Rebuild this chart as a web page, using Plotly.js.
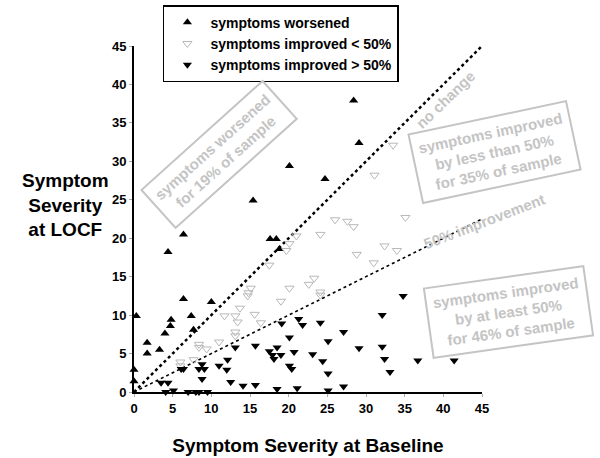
<!DOCTYPE html>
<html>
<head>
<meta charset="utf-8">
<script src="https://cdn.plot.ly/plotly-3.0.1.min.js"></script>
<style>html,body{margin:0;padding:0;background:#fff;}#chart{width:600px;height:458px;}</style>
</head>
<body>
<div id="chart"></div>
<script>
// Symptoms worsened (baseline, LOCF)
const worsenedX = [0, 0, 0.3, 1.7, 1.7, 3.3, 4.0, 4.7, 4.8, 6.4, 7.4, 7.7, 10.0, 6.4, 4.4, 15.4, 20.1, 17.6, 18.4, 18.8, 28.4, 29.1, 24.7];
const worsenedY = [1.4, 2.9, 9.9, 6.4, 5.0, 5.5, 7.6, 8.6, 9.4, 12.1, 9.9, 8.1, 11.7, 20.5, 18.2, 24.9, 29.4, 19.9, 19.9, 18.6, 37.9, 32.4, 27.7];

// Symptoms improved < 50%
const lessX = [15.1, 14.8, 14.7, 20.1, 19.0, 13.7, 11.7, 13.1, 13.4, 15.6, 16.4, 13.1, 13.1, 8.4, 8.4, 9.4, 11.0, 6.0, 6.0, 7.7,
               21.0, 24.1, 20.1, 19.7, 17.5, 22.6, 23.3, 24.1, 24.1, 33.5, 31.1, 26.0, 27.6, 28.4, 35.1, 32.4, 34.0, 28.8, 31.0];
const lessY = [13.5, 12.9, 12.5, 13.5, 11.8, 10.9, 9.9, 9.9, 9.1, 10.1, 9.0, 7.8, 7.3, 6.2, 5.8, 5.6, 6.5, 3.9, 3.4, 4.2,
               20.3, 20.5, 19.3, 18.4, 16.5, 14.0, 14.8, 13.0, 12.6, 32.1, 28.2, 22.4, 22.2, 21.5, 22.7, 19.0, 18.4, 17.9, 16.8];

// Symptoms improved > 50%
const moreX = [3.5, 4.4, 4.1, 5.1, 6.1, 6.4, 8.4, 8.8, 9.1, 8.8, 7.0, 8.0, 8.4, 9.5, 11.0, 12.1, 12.0, 12.5, 13.1, 14.1,
               15.7, 15.7, 17.5, 17.9, 18.1, 18.5, 19.0, 18.5, 19.1, 20.1, 20.1, 20.4, 20.7, 21.1, 21.3, 21.8, 24.1, 23.1, 24.4, 25.1,
               25.1, 25.1, 27.1, 27.1, 29.1, 32.1, 32.1, 32.4, 33.1, 34.8, 36.7, 41.4];
const moreY = [1.2, 1.2, 0, 0.2, 3.0, 3.0, 3.0, 3.6, 3.0, 1.7, 0, 0, 0, 0, 3.4, 4.2, 2.9, 1.3, 5.8, 0.8,
               0.9, 6.0, 5.3, 4.8, 4.3, 5.8, 4.8, 0.4, 8.9, 7.1, 3.4, 3.0, 5.2, 0.5, 9.5, 8.7, 9.0, 4.9, 4.0, 6.6,
               2.4, 0.2, 7.8, 0.7, 5.7, 10.0, 5.9, 4.3, 2.6, 12.5, 4.1, 4.1];

// Reference lines
const refX = [0, 45];
const noChangeY = [0, 45];
const halfY = [0, 22.5];

const tickVals = [0, 5, 10, 15, 20, 25, 30, 35, 40, 45];

const FONT = 'Arial, "Liberation Sans", sans-serif';
const GREY = '#c4c4c4';

const traces = [
  {x: refX, y: noChangeY, mode: 'lines', line: {color: '#000', width: 2.5, dash: 'dot'}, showlegend: false, hoverinfo: 'skip'},
  {x: refX, y: halfY, mode: 'lines', line: {color: '#000', width: 1.6, dash: 'dot'}, showlegend: false, hoverinfo: 'skip'},
  {x: worsenedX, y: worsenedY, mode: 'markers', name: 'symptoms worsened', cliponaxis: false,
   marker: {symbol: 'triangle-up', size: 8, color: '#000'}},
  {x: lessX, y: lessY, mode: 'markers', name: 'symptoms improved < 50%', cliponaxis: false,
   marker: {symbol: 'triangle-down-open', size: 8, color: '#b8b8b8', line: {width: 1, color: '#b8b8b8'}}},
  {x: moreX, y: moreY, mode: 'markers', name: 'symptoms improved > 50%', cliponaxis: false,
   marker: {symbol: 'triangle-down', size: 8, color: '#000'}}
];

const annFont = {family: FONT, size: 15, color: GREY, weight: 'bold'};
const C = {xanchor: 'center', yanchor: 'middle', xref: 'paper', yref: 'paper', showarrow: false};

const layout = {
  width: 600, height: 458,
  margin: {l: 134, r: 118, t: 46, b: 66, autoexpand: false},
  paper_bgcolor: '#fff', plot_bgcolor: '#fff',
  font: {family: FONT, size: 13, color: '#000', weight: 'bold'},
  showlegend: true,
  legend: {
    x: 0.083, y: 1.118, xanchor: 'left', yanchor: 'top',
    bordercolor: '#000', borderwidth: 1.5, bgcolor: '#fff',
    font: {family: FONT, size: 14, color: '#000', weight: 'bold'},
    tracegroupgap: 0, itemwidth: 36
  },
  xaxis: {
    range: [0, 45], tickvals: tickVals, ticktext: tickVals.map(String),
    showgrid: false, zeroline: false, showline: true, linecolor: '#000', linewidth: 2,
    ticks: 'outside', ticklen: 3, tickcolor: '#aaa', tickwidth: 1,
    tickfont: {family: FONT, size: 13, color: '#000', weight: 'bold'},
    title: {text: 'Symptom Severity at Baseline', font: {family: FONT, size: 19, color: '#000', weight: 'bold'}, standoff: 24}
  },
  yaxis: {
    range: [0, 45], tickvals: tickVals, ticktext: tickVals.map(String),
    showgrid: false, zeroline: false, showline: true, linecolor: '#000', linewidth: 2,
    ticks: 'outside', ticklen: 3, tickcolor: '#aaa', tickwidth: 1,
    tickfont: {family: FONT, size: 13, color: '#000', weight: 'bold'}
  },
  annotations: [
    Object.assign({}, C, {x: -0.198, y: 0.54,
     text: 'Symptom<br>Severity<br>at LOCF', align: 'center',
     font: {family: FONT, size: 19, color: '#000', weight: 'bold'}}),
    Object.assign({}, C, {x: 0.245, y: 0.685, textangle: -42,
     text: 'symptoms worsened<br>for 19% of sample', align: 'center', font: annFont,
     bordercolor: GREY, borderwidth: 2, borderpad: 6}),
    Object.assign({}, C, {x: 0.895, y: 0.845, textangle: -44,
     text: 'no change', font: annFont}),
    Object.assign({}, C, {x: 1.037, y: 0.694, textangle: -12,
     text: 'symptoms improved<br>by less than 50%<br>for 35% of sample', align: 'center', font: annFont,
     bordercolor: GREY, borderwidth: 2, borderpad: 6}),
    Object.assign({}, C, {x: 1.005, y: 0.494, textangle: -21,
     text: '50% improvement', font: annFont}),
    Object.assign({}, C, {x: 1.075, y: 0.231, textangle: -8,
     text: 'symptoms improved<br>by at least 50%<br>for 46% of sample', align: 'center', font: annFont,
     bordercolor: GREY, borderwidth: 2, borderpad: 6})
  ]
};

Plotly.newPlot('chart', traces, layout, {displayModeBar: false, staticPlot: true});
</script>
</body>
</html>
